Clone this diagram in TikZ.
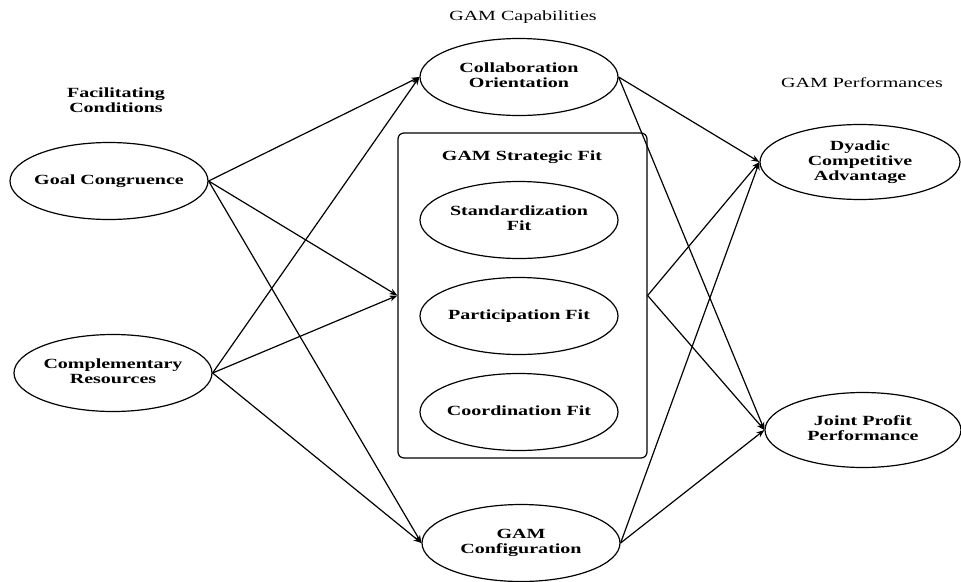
\documentclass[tikz,border=0pt]{standalone}
\usepackage{fontspec}
\setmainfont{Liberation Serif}[FakeStretch=1.43]
\usepackage{tikz}
\usetikzlibrary{shapes, arrows.meta, calc, positioning}
\newcommand{\gamsize}{\fontsize{14}{15}\selectfont}
\newcommand{\ctext}[1]{\makebox[0pt]{\begin{tabular}{@{}c@{}}#1\end{tabular}}}

\begin{document}
\begin{tikzpicture}[x=1pt,y=-1pt,line width=1.2pt,>={Stealth[length=8pt,width=6pt]},
    construct/.style={ellipse,draw,minimum width=198pt,minimum height=77pt,inner sep=0pt,font=\gamsize\bfseries},
    heading/.style={align=center,font=\gamsize}]
    \useasboundingbox (0,0) rectangle (961,581);
    % column headings
    \node[heading,font=\gamsize\bfseries] (facil) at (116,100) {Facilitating\\Conditions};
    \node[heading] (capab) at (523,17) {GAM Capabilities};
    \node[heading] (perf) at (862,83) {GAM Performances};
    % strategic fit box
    \node[draw,rounded corners=6pt,minimum width=249pt,minimum height=325pt,inner sep=0pt] (fit) at (522.5,295.5) {};
    \node[heading,font=\gamsize\bfseries] (fit title) at (522,157) {GAM Strategic Fit};
    \begin{scope}
    \tikzstyle{every node}=[construct]
    \node (goal) at (109,181) {\ctext{Goal Congruence}};
    \node (comp) at (113,373) {\ctext{Complementary\\Resources}};
    \node (collab) at (519,77) {\ctext{Collaboration\\Orientation}};
    \node (stand) at (519,220) {\ctext{Standardization\\Fit}};
    \node (partic) at (519,316) {\ctext{Participation Fit}};
    \node (coord) at (519,412) {\ctext{Coordination Fit}};
    \node (config) at (521,543) {\ctext{GAM\\Configuration}};
    \node[minimum width=200pt,minimum height=75pt] (dyadic) at (860,162) {\ctext{Dyadic\\Competitive\\Advantage}};
    \node[minimum width=196pt,minimum height=75pt] (joint) at (863,430) {\ctext{Joint Profit\\Performance}};
    \end{scope}
    % paths
    \draw [->] (goal.east) -- (collab.west);
    \draw [->] (goal.east) -- (fit.west);
    \draw [->] (goal.east) -- (config.west);
    \draw [->] (comp.east) -- (collab.west);
    \draw [->] (comp.east) -- (fit.west);
    \draw [->] (comp.east) -- (config.west);
    \draw [->] (collab.east) -- (dyadic.west);
    \draw [->] (collab.east) -- (joint.west);
    \draw [->] (fit.east) -- (dyadic.west);
    \draw [->] (fit.east) -- (joint.west);
    \draw [->] (config.east) -- (dyadic.west);
    \draw [->] (config.east) -- (joint.west);
\end{tikzpicture}
\end{document}
